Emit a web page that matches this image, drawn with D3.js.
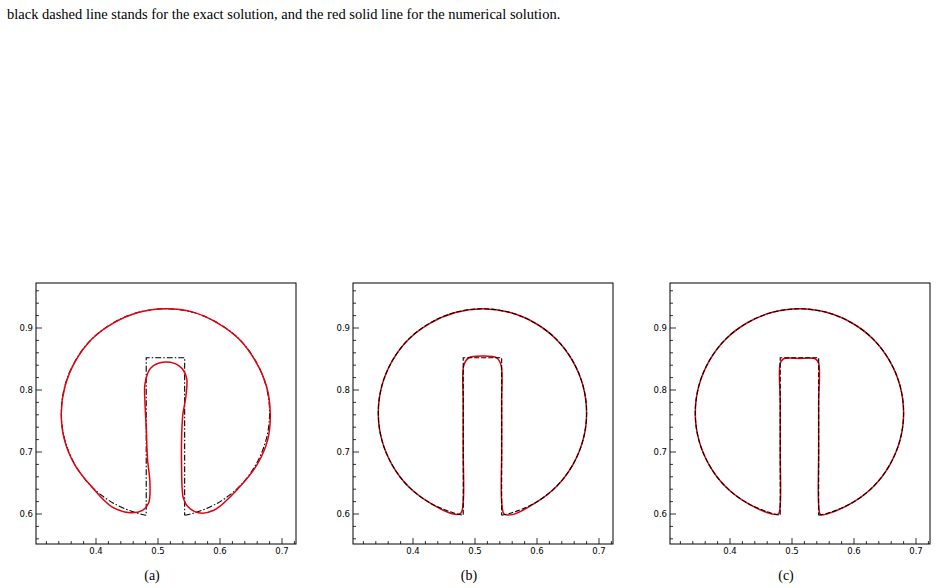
<!DOCTYPE html>
<html><head><meta charset="utf-8">
<script src="https://cdn.jsdelivr.net/npm/d3@7"></script>
<style>body{margin:0;background:#fff}</style></head>
<body><svg id="c" width="938" height="588"></svg>
<script>
const panels = ["(a)", "(b)", "(c)"];
const xTicks = [0.4, 0.5, 0.6, 0.7];
const yTicks = [0.6, 0.7, 0.8, 0.9];
const minorTicks = d3.range(0.32, 0.98, 0.02);
const exactArc = [[0.543,0.598],[0.5555,0.6007],[0.596,0.6175],[0.631,0.644],[0.6575,0.679],[0.6743,0.7195],[0.680,0.763],[0.6743,0.8065],[0.6575,0.847],[0.631,0.882],[0.596,0.9085],[0.5555,0.9253],[0.512,0.931],[0.4685,0.9253],[0.428,0.9085],[0.393,0.882],[0.3665,0.847],[0.3497,0.8065],[0.344,0.763],[0.3497,0.7195],[0.3665,0.679],[0.393,0.644],[0.428,0.6175],[0.4685,0.6007],[0.481,0.598]];
const exactSlot = [[0.481,0.598],[0.481,0.852],[0.543,0.852],[0.543,0.598]];
const numA = [[0.548,0.612],[0.565,0.602],[0.59,0.606],[0.631,0.643],[0.66,0.68],[0.677,0.72],[0.681,0.763],[0.675,0.806],[0.657,0.847],[0.631,0.882],[0.596,0.908],[0.555,0.926],[0.512,0.931],[0.468,0.925],[0.428,0.908],[0.393,0.882],[0.367,0.847],[0.35,0.806],[0.344,0.763],[0.349,0.72],[0.366,0.679],[0.393,0.644],[0.425,0.612],[0.455,0.602],[0.475,0.606],[0.485,0.618],[0.487,0.65],[0.483,0.69],[0.481,0.74],[0.479,0.78],[0.479,0.81],[0.488,0.835],[0.512,0.845],[0.535,0.838],[0.546,0.82],[0.545,0.79],[0.540,0.76],[0.538,0.72],[0.538,0.68],[0.539,0.64],[0.541,0.625]];
const numB = [[0.547,0.600],[0.56,0.599],[0.596,0.617],[0.631,0.644],[0.6575,0.679],[0.6743,0.7195],[0.680,0.763],[0.6743,0.8065],[0.6575,0.847],[0.631,0.882],[0.596,0.9085],[0.5555,0.9253],[0.512,0.931],[0.4685,0.925],[0.428,0.908],[0.393,0.882],[0.3665,0.847],[0.3497,0.8065],[0.344,0.763],[0.3497,0.7195],[0.3665,0.679],[0.393,0.644],[0.428,0.6175],[0.465,0.600],[0.477,0.601],[0.481,0.62],[0.481,0.70],[0.481,0.78],[0.482,0.840],[0.490,0.852],[0.512,0.855],[0.535,0.852],[0.542,0.840],[0.543,0.78],[0.543,0.70],[0.543,0.62]];
const numC = [[0.546,0.599],[0.556,0.600],[0.596,0.6175],[0.631,0.644],[0.6575,0.679],[0.6743,0.7195],[0.680,0.763],[0.6743,0.8065],[0.6575,0.847],[0.631,0.882],[0.596,0.9085],[0.5555,0.9253],[0.512,0.931],[0.4685,0.9253],[0.428,0.9085],[0.393,0.882],[0.3665,0.847],[0.3497,0.8065],[0.344,0.763],[0.3497,0.7195],[0.3665,0.679],[0.393,0.644],[0.428,0.6175],[0.468,0.600],[0.478,0.600],[0.481,0.615],[0.481,0.70],[0.481,0.78],[0.481,0.843],[0.486,0.850],[0.512,0.851],[0.538,0.850],[0.543,0.843],[0.543,0.78],[0.543,0.70],[0.543,0.615]];
const numerical = [numA, numB, numC];
const lefts = [36, 353, 670];

const svg = d3.select("#c");
svg.append("text").attr("x",7).attr("y",19).attr("font-family","Liberation Serif").attr("font-size",14.5)
  .text("black dashed line stands for the exact solution, and the red solid line for the numerical solution.");

panels.forEach((lab, i) => {
  const L = lefts[i], W = 260, T = 283, H = 261;
  const x = d3.scaleLinear().domain([0.4 - 60/620, 0.4 + 200/620]).range([L, L + W]);
  const y = d3.scaleLinear().domain([0.6 - 30/620, 0.6 + 231/620]).range([T + H, T]);
  const g = svg.append("g");
  const arcLine = d3.line().x(d=>x(d[0])).y(d=>y(d[1])).curve(d3.curveCatmullRom);
  const lin = d3.line().x(d=>x(d[0])).y(d=>y(d[1]));
  const closed = d3.line().x(d=>x(d[0])).y(d=>y(d[1])).curve(d3.curveCatmullRomClosed);
  const exactD = arcLine(exactArc) + lin(exactSlot).replace(/^M/, "L");
  const drawExact = () => g.append("path").attr("d", exactD).attr("fill","none").attr("stroke","#000")
    .attr("stroke-width", 1.1).attr("stroke-dasharray", i===0 ? "6,2,1.5,2" : "5,2");
  const drawNum = () => g.append("path").attr("d", closed(numerical[i])).attr("fill","none")
    .attr("stroke","#e3000f").attr("stroke-width", 1.5);
  if (i === 0) { drawExact(); drawNum(); } else { drawNum(); drawExact(); }
  g.append("rect").attr("x",L).attr("y",T).attr("width",W).attr("height",H).attr("fill","none").attr("stroke","#000").attr("stroke-width",1);
  minorTicks.forEach(v => {
    const isMajX = xTicks.some(t=>Math.abs(t-v)<1e-6), isMajY = yTicks.some(t=>Math.abs(t-v)<1e-6);
    const px = x(v), py = y(v);
    if (px > L+1 && px < L+W-1) g.append("line").attr("x1",px).attr("x2",px).attr("y1",T+H).attr("y2",T+H-(isMajX?6:3)).attr("stroke","#000").attr("stroke-width",0.8);
    if (py > T+1 && py < T+H-1) g.append("line").attr("y1",py).attr("y2",py).attr("x1",L).attr("x2",L+(isMajY?6:3)).attr("stroke","#000").attr("stroke-width",0.8);
  });
  xTicks.forEach(v => g.append("text").attr("x",x(v)).attr("y",T+H+10).attr("text-anchor","middle")
    .attr("font-family","DejaVu Sans").attr("font-size",8.5).text(v.toFixed(1)));
  yTicks.forEach(v => g.append("text").attr("x",L-3).attr("y",y(v)+3).attr("text-anchor","end")
    .attr("font-family","DejaVu Sans").attr("font-size",8.5).text(v.toFixed(1)));
  g.append("text").attr("x",L+116).attr("y",580).attr("text-anchor","middle")
    .attr("font-family","Liberation Serif").attr("font-size",14).text(lab);
});
</script></body></html>
